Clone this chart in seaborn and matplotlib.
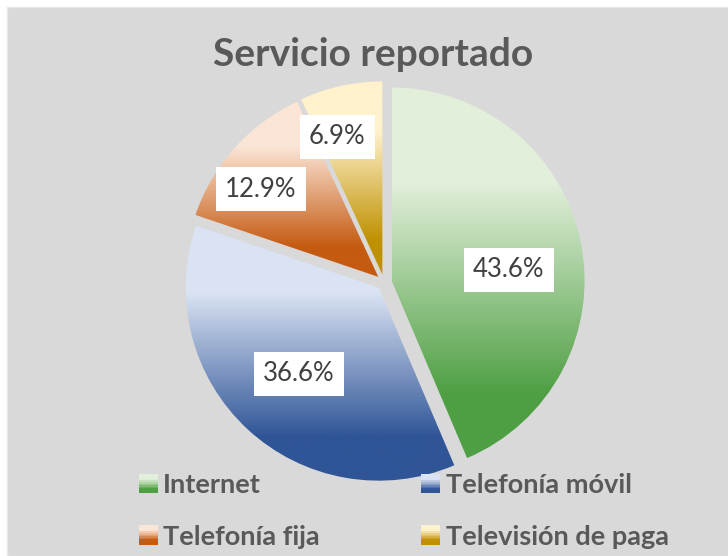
import matplotlib
matplotlib.use("Agg")
import matplotlib.pyplot as plt
from matplotlib.colors import LinearSegmentedColormap
from matplotlib.patches import Rectangle
from matplotlib.legend_handler import HandlerBase
import seaborn as sns
import numpy as np

# data
categories = ["Internet", "Telefonía móvil", "Telefonía fija", "Televisión de paga"]
shares = [43.6, 36.6, 12.9, 6.9]
title = "Servicio reportado"

# style: gradient light top -> dark bottom for each slice
light_cols = ["#E2EFDA", "#DAE3F3", "#FBE5D6", "#FFF2CC"]
dark_cols = ["#4E9F43", "#2F5597", "#C55A11", "#BF9000"]
label_dist = [0.65, 0.65, 0.80, 0.79]
label_nudge = [-6, 0, 5, 5.5]

sns.set_theme(style="white")
plt.rcParams["font.family"] = ["Lato", "DejaVu Sans"]

W, H = 728, 556
fig = plt.figure(figsize=(W / 100, H / 100), dpi=100)
fig.patch.set_facecolor("white")
bg = Rectangle((7 / W, 0), 1, 1 - 7 / H, transform=fig.transFigure,
               facecolor="#D9D9D9", edgecolor="#E8E8E8", lw=1, zorder=-5)
fig.patches.append(bg)

# pie axes: centre (384, 282) px, radius 193 px
R, cx, cy, L = 193, 384, 282, 1.1
side = 2 * L * R
ax = fig.add_axes([(cx - side / 2) / W, (H - cy - side / 2) / H, side / W, side / H])
ax.set_zorder(2)
ax.set_xlim(-L, L)
ax.set_ylim(-L, L)
ax.set_aspect("equal")
ax.axis("off")
ax.patch.set_alpha(0)


def grad_cmap(lo, hi):
    return LinearSegmentedColormap.from_list(
        "g", [(0, hi), (0.26, hi), (0.83, lo), (1, lo)])


wedges, _ = ax.pie(shares, startangle=90, counterclock=False, radius=1,
                   explode=[0.04] * 4, wedgeprops=dict(linewidth=0))

grad = np.linspace(0, 1, 256).reshape(-1, 1)
for w, lo, hi in zip(wedges, light_cols, dark_cols):
    w.set_facecolor("none")
    ext = w.get_path().get_extents()
    im = ax.imshow(grad, cmap=grad_cmap(hi, lo), aspect="auto",
                   extent=(ext.x0, ext.x1, ext.y0, ext.y1), origin="upper",
                   interpolation="bilinear", zorder=1)
    im.set_clip_path(w)
ax.set_xlim(-L, L)
ax.set_ylim(-L, L)

for w, s, d, nud in zip(wedges, shares, label_dist, label_nudge):
    ang = np.deg2rad((w.theta1 + w.theta2) / 2 + nud)
    ax.text(d * np.cos(ang), d * np.sin(ang), f"{s:.1f}%", ha="center", va="center",
            fontsize=18.5, color="#404040", zorder=3,
            bbox=dict(boxstyle="square,pad=0.36", facecolor="white", edgecolor="none"))

fig.text(373 / W, 1 - 55 / H, title, ha="center", va="center", fontsize=28,
         fontweight="bold", color="#595959")


class GradHandler(HandlerBase):
    def __init__(self, lo, hi):
        super().__init__()
        self.cmap = grad_cmap(hi, lo)

    def create_artists(self, legend, orig_handle, xdescent, ydescent, width, height,
                       fontsize, trans):
        n = 12
        size = height * 1.0
        x0 = -xdescent + (width - size)
        y0 = -ydescent + (height - size) / 2
        arts = []
        for i in range(n):
            r = Rectangle((x0, y0 + size * (n - 1 - i) / n), size, size / n + 0.3,
                          facecolor=self.cmap(i / (n - 1)), edgecolor="none",
                          transform=trans)
            arts.append(r)
        return arts


# legend filled row by row (ncol=2 fills by column, so reorder)
order = [0, 2, 1, 3]
handles = [Rectangle((0, 0), 1, 1) for _ in categories]
hmap = {h: GradHandler(lo, hi) for h, lo, hi in zip(handles, light_cols, dark_cols)}
leg = fig.legend([handles[i] for i in order], [categories[i] for i in order],
                 handler_map=hmap, ncol=2, loc="center",
                 bbox_to_anchor=(403 / W, 1 - 511 / H), frameon=False,
                 prop=dict(size=19.5, weight="bold"), labelcolor="#595959",
                 handlelength=0.75, handletextpad=0.2, columnspacing=3.7,
                 labelspacing=1.0)

fig.savefig("out.png", dpi=100, facecolor=fig.get_facecolor())
